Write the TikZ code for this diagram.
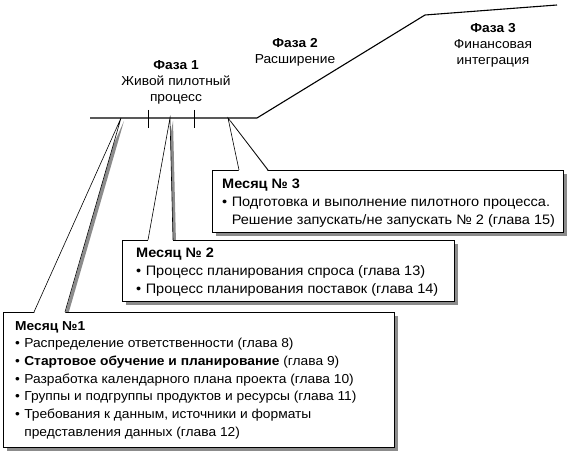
\documentclass[tikz,border=0pt]{standalone}
\usepackage{fontspec}
\setmainfont[FakeStretch=1.06]{Liberation Sans}
\usetikzlibrary{calc,positioning,shadows}
\pgfdeclarelayer{bg}
\pgfsetlayers{bg,main}
\tikzstyle{box} = [rectangle, draw=black, fill=white, line width=0.8pt, inner sep=0pt, anchor=north west, drop shadow={shadow xshift=4pt, shadow yshift=-4pt, fill=black!45, opacity=1}]
\tikzstyle{shd} = [fill=black!45]
\tikzstyle{txt} = [align=left, inner sep=0pt, font=\fontsize{13}{17.7}\selectfont]
\tikzstyle{txtw} = [txt, font=\fontsize{13.7}{17.7}\selectfont]
\tikzstyle{ph}  = [align=center, inner sep=0pt, font=\fontsize{13}{16}\selectfont]
\tikzstyle{lne} = [black, line width=1.1pt]
\tikzstyle{ptr} = [black, line width=0.6pt]
\newcommand{\bul}{\makebox[0.7em][l]{\textbullet}}

\begin{document}
\begin{tikzpicture}[x=1pt, y=-1pt]
	\useasboundingbox (0,0) rectangle (576,454);

	% month boxes
	\node[box, minimum width=391, minimum height=135] (m1) at (3,312) {};
	\node[box, minimum width=332, minimum height=61]  (m2) at (122,240) {};
	\node[box, minimum width=351, minimum height=62]  (m3) at (212,170) {};

	% points on the time line
	\coordinate (l0) at (90,118);
	\coordinate (l1) at (257,118);
	\coordinate (l2) at (425,15);
	\coordinate (l3) at (557,5);
	\coordinate (a1) at (121,118);
	\coordinate (a2) at (170,118);
	\coordinate (a3) at (228,118);

	% callout pointers
	\foreach \m/\a/\fa/\fb in {m1/a1/31/62, m2/a2/26/51, m3/a3/27/56} {
		\begin{pgfonlayer}{bg}
			\fill[shd] ($(\m.north west)+(\fa+3,3)$) -- ($(\a)+(3,3)$) -- ($(\m.north west)+(\fb+3,3)$) -- cycle;
		\end{pgfonlayer}
		\fill[white] ($(\m.north west)+(\fa,1.5)$) -- (\a) -- ($(\m.north west)+(\fb,1.5)$) -- cycle;
		\draw[ptr] ($(\m.north west)+(\fa,0)$) -- (\a) -- ($(\m.north west)+(\fb,0)$);
	}

	% time line
	\draw[lne] (l0) -- (l1) -- (l2) -- (l3);
	\foreach \x in {148,194}
		\draw[black, line width=0.8pt] (\x,110) -- (\x,128);

	% phases
	\node[ph] (f1) at (176,82) {\textbf{Фаза 1}\\Живой пилотный\\процесс};
	\node[ph] (f2) at (295,52) {\textbf{Фаза 2}\\Расширение};
	\node[ph] (f3) at (493,45) {\textbf{Фаза 3}\\Финансовая\\интеграция};

	% month texts
	\node[txt, below right=9pt and 12pt of m1.north west] (m1t) {\textbf{Месяц №1}\\
		\bul Распределение ответственности (глава 8)\\
		\bul \textbf{Стартовое обучение и планирование} (глава 9)\\
		\bul Разработка календарного плана проекта (глава 10)\\
		\bul Группы и подгруппы продуктов и ресурсы (глава 11)\\
		\bul Требования к данным, источники и форматы\\
		\hspace*{0.7em}представления данных (глава 12)};
	\node[txtw, below right=8pt and 14pt of m2.north west] (m2t) {\textbf{Месяц № 2}\\
		\bul Процесс планирования спроса (глава 13)\\
		\bul Процесс планирования поставок (глава 14)};
	\node[txtw, below right=9pt and 10pt of m3.north west] (m3t) {\textbf{Месяц № 3}\\
		\bul Подготовка и выполнение пилотного процесса.\\
		\hspace*{0.7em}Решение запускать/не запускать № 2 (глава 15)};
\end{tikzpicture}
\end{document}
